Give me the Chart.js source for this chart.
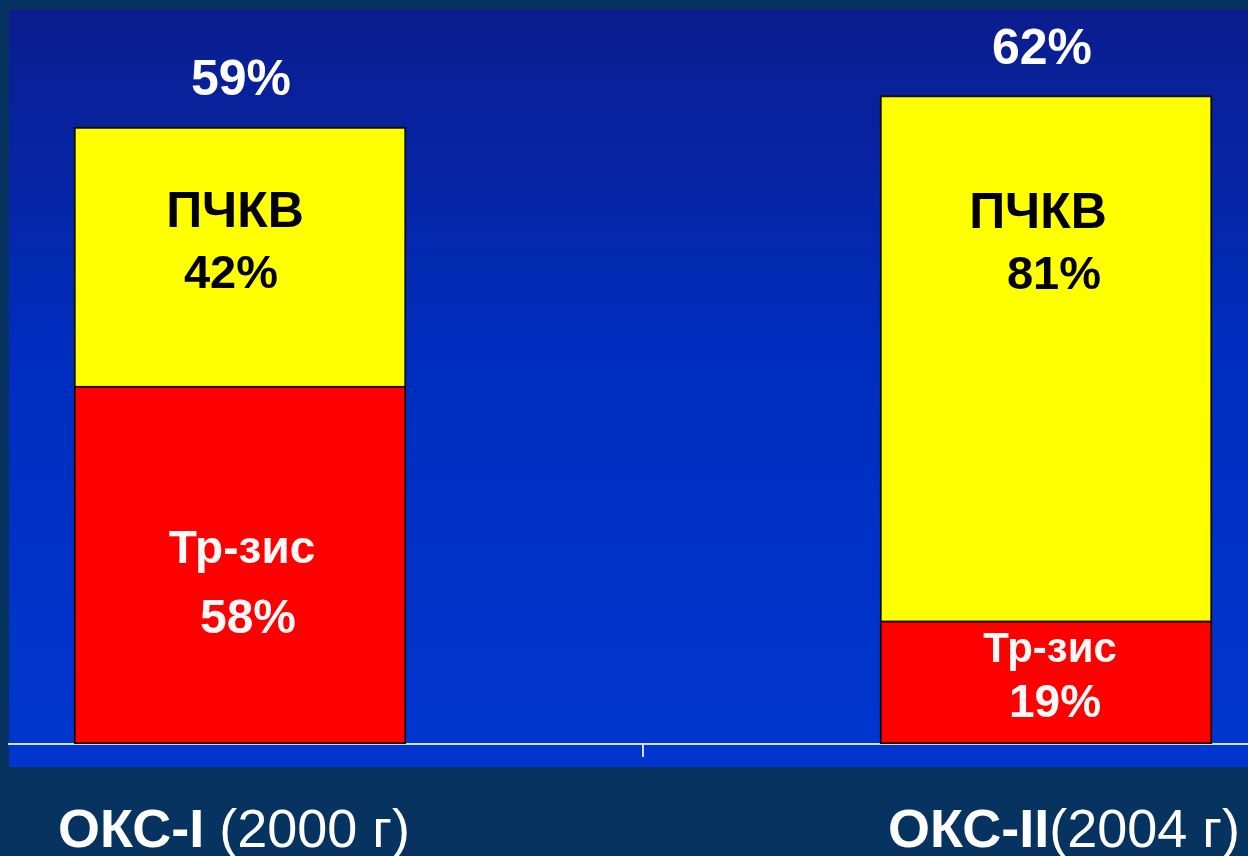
<!DOCTYPE html>
<html lang="ru">
<head>
<meta charset="utf-8">
<title>ОКС-I / ОКС-II</title>
<script src="https://cdn.jsdelivr.net/npm/chart.js@4.4.1/dist/chart.umd.min.js"></script>
<style>
  html, body { margin: 0; padding: 0; background: #06335f; }
  #wrap { width: 1248px; height: 856px; }
</style>
</head>
<body>
<div id="wrap"><canvas id="c" width="1248" height="856"></canvas></div>
<script>
// Registries
const categories = ['ОКС-I', 'ОКС-II'];
const categoryYears = [' (2000 г)', '(2004 г)'];
const seriesNames = ['Тр-зис', 'ПЧКВ'];

// Share of patients with reperfusion, % (bar height)
const totals = [59, 62];
// Split of reperfusion: thrombolysis vs PCI, % of the bar
const lysisShare = [58, 19];
const pciShare = [42, 81];

const lysisValues = totals.map((t, i) => t * lysisShare[i] / 100);
const pciValues = totals.map((t, i) => t * pciShare[i] / 100);

const FONT = '"Liberation Sans", Arial, Helvetica, sans-serif';

// Background: dark slide plus a blue plot panel
const panelPlugin = {
  id: 'panel',
  beforeDraw(chart) {
    const { ctx, chartArea: a, width, height } = chart;
    ctx.save();
    ctx.fillStyle = '#06335f';
    ctx.fillRect(0, 0, width, height);
    const top = a.top - 2, bottom = a.bottom + 23;
    const g = ctx.createLinearGradient(0, top, 0, bottom);
    g.addColorStop(0, '#0b1d8e');
    g.addColorStop(0.45, '#002dbe');
    g.addColorStop(1, '#0036cf');
    ctx.fillStyle = g;
    ctx.fillRect(a.left, top, a.right - a.left, bottom - top);
    ctx.restore();
  }
};

// Text labels on and around the bars
const labelPlugin = {
  id: 'barLabels',
  afterDatasetsDraw(chart) {
    const { ctx } = chart;
    const red = chart.getDatasetMeta(0).data;
    const yel = chart.getDatasetMeta(1).data;
    const topDx = [1, -4];
    const pciOff = [100, 132];
    const pciDx = [[-5, -9], [-8, 8]];
    const lysisOff = [[-2, 68], [-20, 35]];
    const lysisDx = [[2, 8], [4, 9]];
    const lysisSize = [[46, 48], [42, 46]];
    const catDx = [-6, 18];
    ctx.save();
    ctx.textAlign = 'center';
    ctx.textBaseline = 'alphabetic';
    for (let i = 0; i < totals.length; i++) {
      const y = yel[i], r = red[i];
      // total above the bar
      ctx.fillStyle = '#ffffff';
      ctx.font = `bold 50px ${FONT}`;
      ctx.fillText(`${totals[i]}%`, y.x + topDx[i], y.y - 32);
      // PCI segment
      ctx.fillStyle = '#000000';
      ctx.font = `bold 50px ${FONT}`;
      ctx.fillText(seriesNames[1], y.x + pciDx[i][0], y.y + pciOff[i]);
      ctx.font = `bold 47px ${FONT}`;
      ctx.fillText(`${pciShare[i]}%`, y.x + pciDx[i][1], y.y + pciOff[i] + 61);
      // thrombolysis segment
      const c = (r.y + r.base) / 2;
      ctx.fillStyle = '#fff8f8';
      ctx.font = `bold ${lysisSize[i][0]}px ${FONT}`;
      ctx.fillText(seriesNames[0], r.x + lysisDx[i][0], c + lysisOff[i][0]);
      ctx.font = `bold ${lysisSize[i][1]}px ${FONT}`;
      ctx.fillText(`${lysisShare[i]}%`, r.x + lysisDx[i][1], c + lysisOff[i][1]);
      // category label under the panel: bold name + regular year
      const boldFont = `bold 54px ${FONT}`, regFont = `54px ${FONT}`;
      ctx.font = boldFont;
      const w1 = ctx.measureText(categories[i]).width;
      ctx.font = regFont;
      const w2 = ctx.measureText(categoryYears[i]).width;
      const x0 = y.x + catDx[i] - (w1 + w2) / 2;
      ctx.textAlign = 'left';
      ctx.fillStyle = '#ffffff';
      ctx.font = boldFont;
      ctx.fillText(categories[i], x0, 847);
      ctx.font = regFont;
      ctx.fillText(categoryYears[i], x0 + w1, 847);
      ctx.textAlign = 'center';
    }
    ctx.restore();
  }
};

new Chart(document.getElementById('c'), {
  type: 'bar',
  data: {
    datasets: [
      {
        label: seriesNames[0],
        data: lysisValues.map((v, i) => ({ x: i, y: v })),
        backgroundColor: '#ff0000',
        borderColor: '#1a0000',
        borderWidth: 2,
        borderSkipped: false,
        barThickness: 332
      },
      {
        label: seriesNames[1],
        data: pciValues.map((v, i) => ({ x: i, y: v })),
        backgroundColor: '#ffff00',
        borderColor: '#101000',
        borderWidth: 2,
        borderSkipped: 'start',
        barThickness: 332
      }
    ]
  },
  options: {
    responsive: false,
    animation: false,
    events: [],
    layout: { padding: { left: 9, right: 0, top: 12, bottom: 99 } },
    plugins: { legend: { display: false }, tooltip: { enabled: false } },
    scales: {
      x: {
        type: 'linear',
        stacked: true,
        offset: false,
        min: -0.2866,
        max: 1.2506,
        afterBuildTicks(scale) { scale.ticks = [{ value: 0.5 }]; },
        ticks: { display: false },
        grid: {
          offset: false,
          drawOnChartArea: false,
          drawTicks: true,
          tickLength: 13,
          color: '#cfe3ff',
          lineWidth: 2
        },
        border: { display: true, color: '#cfe3ff', width: 2 }
      },
      y: {
        stacked: true,
        display: false,
        min: 0,
        max: 70
      }
    }
  },
  plugins: [panelPlugin, labelPlugin]
});
</script>
</body>
</html>
